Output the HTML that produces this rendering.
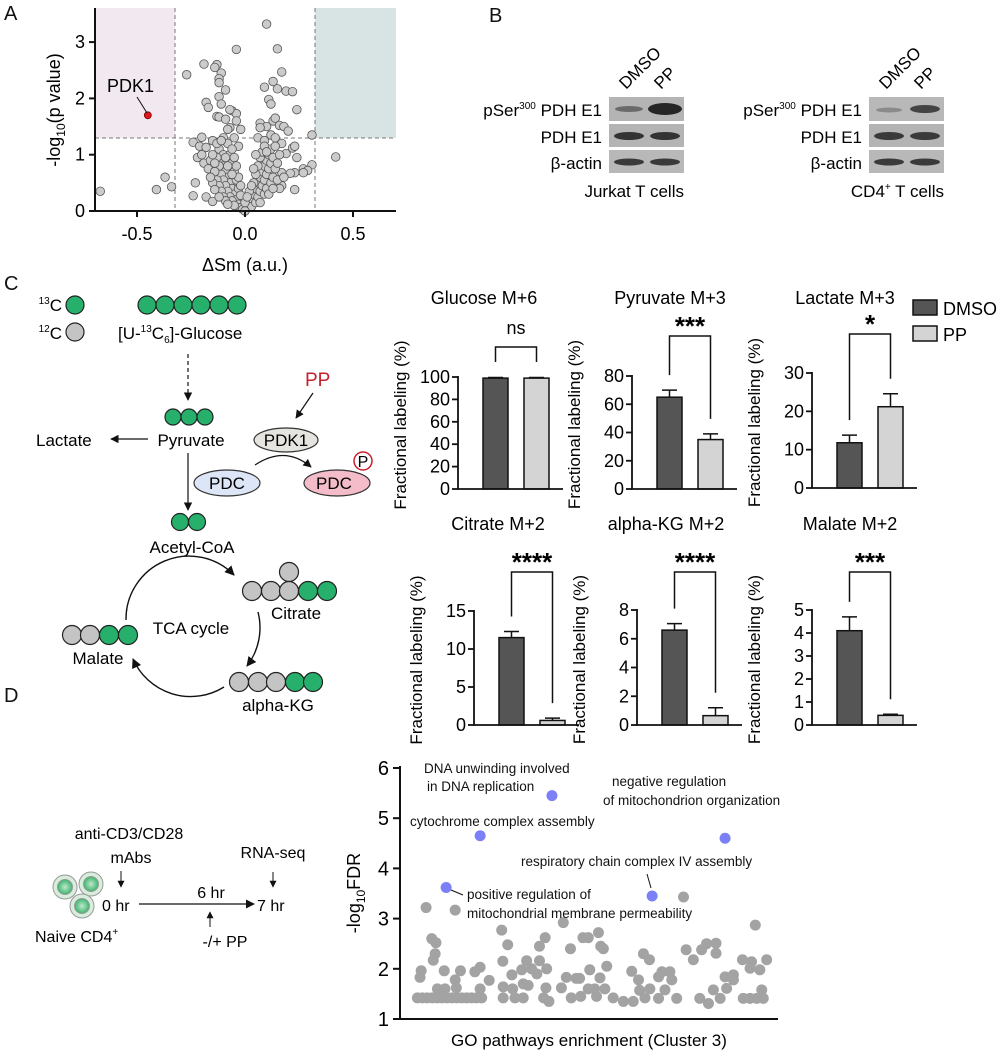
<!DOCTYPE html>
<html><head><meta charset="utf-8"><style>
html,body{margin:0;padding:0;background:#fff}
svg{display:block;font-family:"Liberation Sans",Arial,sans-serif}
</style></head><body>
<svg id="fig" width="1004" height="1050" viewBox="0 0 1004 1050" xmlns="http://www.w3.org/2000/svg">
<defs>
<marker id="ah" viewBox="0 0 10 10" refX="9" refY="5" markerWidth="7" markerHeight="7" orient="auto"><path d="M0,0 L10,5 L0,10 z" fill="#111"/></marker>
<radialGradient id="cellg"><stop offset="0" stop-color="#bfe8cc"/><stop offset="1" stop-color="#3db46d"/></radialGradient>
</defs>
<g font-size="20" fill="#111">
<text x="4" y="20">A</text>
<text x="489" y="22">B</text>
<text x="4" y="290">C</text>
<text x="4" y="702">D</text>
</g>

<g id="volcano">
<rect x="95" y="8" width="80" height="130" fill="#f1e9ef"/>
<rect x="315" y="8" width="81" height="130" fill="#d8e4e4"/>
<g stroke="#777" stroke-dasharray="4,3" stroke-width="1">
<line x1="175" y1="8" x2="175" y2="211"/>
<line x1="315" y1="8" x2="315" y2="211"/>
<line x1="95" y1="138" x2="396" y2="138"/>
</g>
<g id="vpts"></g>
<line x1="95" y1="8" x2="95" y2="211" stroke="#111" stroke-width="2"/>
<line x1="94" y1="211" x2="396" y2="211" stroke="#111" stroke-width="2"/>
<g id="vticks" font-size="18"></g>
<text transform="translate(60,110) rotate(-90)" text-anchor="middle" font-size="18">-log<tspan font-size="12" dy="5">10</tspan><tspan dy="-5">(p value)</tspan></text>
<text x="245" y="271" text-anchor="middle" font-size="18">ΔSm (a.u.)</text>
<line x1="137" y1="97" x2="147" y2="113" stroke="#111" stroke-width="1"/>
<text x="107" y="92" font-size="18">PDK1</text>
</g>

<g font-size="17">
<text transform="translate(626,90) rotate(-45)">DMSO</text>
<text transform="translate(661,90) rotate(-45)">PP</text>
<rect x="609" y="97" width="75" height="24" fill="#b4b4b4"/>
<rect x="609" y="124" width="75" height="23" fill="#b4b4b4"/>
<rect x="609" y="150" width="75" height="23" fill="#b8b8b8"/>
<ellipse cx="629" cy="109" rx="14" ry="3" fill="#6a6a6a"/>
<ellipse cx="665" cy="109" rx="17" ry="6" fill="#262626"/>
<ellipse cx="629" cy="136" rx="15" ry="4" fill="#333"/>
<ellipse cx="665" cy="136" rx="15" ry="4" fill="#333"/>
<ellipse cx="629" cy="162" rx="15" ry="3.5" fill="#3a3a3a"/>
<ellipse cx="665" cy="162" rx="15" ry="3.5" fill="#3a3a3a"/>
<text x="602" y="116" text-anchor="end">pSer<tspan font-size="10" dy="-7">300</tspan><tspan dy="7"> PDH E1</tspan></text>
<text x="602" y="143" text-anchor="end">PDH E1</text>
<text x="602" y="169" text-anchor="end">β-actin</text>
<text x="684" y="197" text-anchor="end">Jurkat T cells</text>
</g>
<g font-size="17">
<text transform="translate(886,90) rotate(-45)">DMSO</text>
<text transform="translate(921,90) rotate(-45)">PP</text>
<rect x="869" y="97" width="75" height="24" fill="#b8b8b8"/>
<rect x="869" y="124" width="75" height="23" fill="#b4b4b4"/>
<rect x="869" y="150" width="75" height="23" fill="#b8b8b8"/>
<ellipse cx="889" cy="110" rx="13" ry="2.5" fill="#8a8a8a"/>
<ellipse cx="925" cy="109" rx="15" ry="4" fill="#444"/>
<ellipse cx="889" cy="136" rx="15" ry="4" fill="#3a3a3a"/>
<ellipse cx="925" cy="136" rx="15" ry="4" fill="#3a3a3a"/>
<ellipse cx="889" cy="162" rx="15" ry="3.5" fill="#3a3a3a"/>
<ellipse cx="925" cy="162" rx="15" ry="3.5" fill="#3a3a3a"/>
<text x="862" y="116" text-anchor="end">pSer<tspan font-size="10" dy="-7">300</tspan><tspan dy="7"> PDH E1</tspan></text>
<text x="862" y="143" text-anchor="end">PDH E1</text>
<text x="862" y="169" text-anchor="end">β-actin</text>
<text x="944" y="197" text-anchor="end">CD4<tspan font-size="10" dy="-7">+</tspan><tspan dy="7"> T cells</tspan></text>
</g>

<g font-size="17" stroke-width="1.2">
<text x="62" y="311" text-anchor="end"><tspan font-size="10" dy="-7">13</tspan><tspan dy="7">C</tspan></text>
<circle cx="75" cy="305" r="9" fill="#27b06b" stroke="#222"/>
<text x="62" y="339" text-anchor="end"><tspan font-size="10" dy="-7">12</tspan><tspan dy="7">C</tspan></text>
<circle cx="75" cy="332" r="9" fill="#c4c4c4" stroke="#222"/>
<g fill="#27b06b" stroke="#222">
<circle cx="147" cy="305" r="9"/><circle cx="165" cy="305" r="9"/><circle cx="183" cy="305" r="9"/><circle cx="201" cy="305" r="9"/><circle cx="219" cy="305" r="9"/><circle cx="237" cy="305" r="9"/>
</g>
<text x="118" y="339">[U-<tspan font-size="10" dy="-7">13</tspan><tspan dy="7">C</tspan><tspan font-size="10" dy="4">6</tspan><tspan dy="-4">]-Glucose</tspan></text>
<line x1="188" y1="354" x2="188" y2="400" stroke="#111" stroke-dasharray="4,3" marker-end="url(#ah)"/>
<g fill="#27b06b" stroke="#222"><circle cx="173" cy="417" r="8"/><circle cx="189" cy="417" r="8"/><circle cx="205" cy="417" r="8"/></g>
<text x="191" y="446" text-anchor="middle">Pyruvate</text>
<text x="36" y="446">Lactate</text>
<line x1="148" y1="439" x2="111" y2="439" stroke="#111" marker-end="url(#ah)"/>
<text x="305" y="386" fill="#c8202c" font-size="19">PP</text>
<line x1="313" y1="393" x2="296" y2="418" stroke="#111" marker-end="url(#ah)"/>
<ellipse cx="286" cy="440" rx="32" ry="12" fill="#e6e4df" stroke="#333"/>
<text x="286" y="446" text-anchor="middle">PDK1</text>
<ellipse cx="227" cy="483" rx="33" ry="13" fill="#dde6f6" stroke="#333"/>
<text x="227" y="489" text-anchor="middle">PDC</text>
<ellipse cx="337" cy="483" rx="33" ry="13" fill="#f3bcc8" stroke="#333"/>
<text x="334" y="489" text-anchor="middle">PDC</text>
<circle cx="363" cy="461" r="9" fill="#fff" stroke="#c8202c" stroke-width="1.5"/>
<text x="363" y="467" text-anchor="middle" font-size="16">P</text>
<path d="M255 465 Q285 445 311 467" fill="none" stroke="#111" marker-end="url(#ah)"/>
<line x1="188" y1="453" x2="188" y2="510" stroke="#111" marker-end="url(#ah)"/>
<g fill="#27b06b" stroke="#222"><circle cx="180" cy="522" r="8.5"/><circle cx="197" cy="522" r="8.5"/></g>
<text x="192" y="553" text-anchor="middle">Acetyl-CoA</text>
<circle cx="289" cy="572" r="9.5" fill="#c4c4c4" stroke="#222"/>
<g stroke="#222"><circle cx="252" cy="591" r="9.5" fill="#c4c4c4"/><circle cx="271" cy="591" r="9.5" fill="#c4c4c4"/><circle cx="289" cy="591" r="9.5" fill="#c4c4c4"/><circle cx="308" cy="591" r="9.5" fill="#27b06b"/><circle cx="327" cy="591" r="9.5" fill="#27b06b"/></g>
<text x="296" y="619" text-anchor="middle">Citrate</text>
<g stroke="#222"><circle cx="239" cy="682" r="9.5" fill="#c4c4c4"/><circle cx="258" cy="682" r="9.5" fill="#c4c4c4"/><circle cx="276" cy="682" r="9.5" fill="#c4c4c4"/><circle cx="295" cy="682" r="9.5" fill="#27b06b"/><circle cx="313" cy="682" r="9.5" fill="#27b06b"/></g>
<text x="278" y="711" text-anchor="middle">alpha-KG</text>
<g stroke="#222"><circle cx="72" cy="635" r="9.5" fill="#c4c4c4"/><circle cx="90" cy="635" r="9.5" fill="#c4c4c4"/><circle cx="109" cy="635" r="9.5" fill="#27b06b"/><circle cx="128" cy="635" r="9.5" fill="#27b06b"/></g>
<text x="98" y="664" text-anchor="middle">Malate</text>
<text x="191" y="634" text-anchor="middle">TCA cycle</text>
<g fill="none" stroke="#111" stroke-width="1.4">
<path d="M126 620 A63 63 0 0 1 234 575" marker-end="url(#ah)"/>
<path d="M258 612 A63 63 0 0 1 247 666" marker-end="url(#ah)"/>
<path d="M224 687 A63 63 0 0 1 133 659" marker-end="url(#ah)"/>
</g>
</g>

<g id="bars"></g>
<g font-size="18">
<rect x="913" y="300" width="24" height="15" fill="#555" stroke="#111" stroke-width="1.5"/>
<text x="943" y="315">DMSO</text>
<rect x="913" y="326" width="24" height="15" fill="#d4d4d4" stroke="#111" stroke-width="1.5"/>
<text x="943" y="341">PP</text>
</g>

<g font-size="16">
<g stroke="#999" stroke-width="1">
<circle cx="65" cy="887" r="12" fill="#d8eedd"/><circle cx="65" cy="887" r="7.5" fill="url(#cellg)"/>
<circle cx="91" cy="884" r="12" fill="#d8eedd"/><circle cx="91" cy="884" r="7.5" fill="url(#cellg)"/>
<circle cx="82" cy="906" r="12" fill="#d8eedd"/><circle cx="82" cy="906" r="7.5" fill="url(#cellg)"/>
</g>
<text x="129" y="839" text-anchor="middle">anti-CD3/CD28</text>
<text x="131" y="863" text-anchor="middle">mAbs</text>
<line x1="121" y1="871" x2="121" y2="887" stroke="#111" marker-end="url(#ah)"/>
<text x="102" y="911">0 hr</text>
<line x1="139" y1="904" x2="254" y2="904" stroke="#111" stroke-width="1.3" marker-end="url(#ah)"/>
<text x="211" y="898" text-anchor="middle">6 hr</text>
<text x="257" y="911">7 hr</text>
<text x="273" y="858" text-anchor="middle">RNA-seq</text>
<line x1="273" y1="872" x2="273" y2="887" stroke="#111" marker-end="url(#ah)"/>
<line x1="210" y1="927" x2="210" y2="912" stroke="#111" marker-end="url(#ah)"/>
<text x="225" y="947" text-anchor="middle">-/+ PP</text>
<text x="35" y="942">Naive CD4<tspan font-size="10" dy="-7">+</tspan></text>
</g>

<g id="go">
<g id="gopts"></g>
<line x1="400" y1="766" x2="400" y2="1019" stroke="#111" stroke-width="2"/>
<line x1="399" y1="1019" x2="778" y2="1019" stroke="#111" stroke-width="2"/>
<g id="goticks" font-size="20"></g>
<text transform="translate(360,893) rotate(-90)" text-anchor="middle" font-size="18">-log<tspan font-size="12" dy="5">10</tspan><tspan dy="-5">FDR</tspan></text>
<text x="589" y="1046" text-anchor="middle" font-size="17">GO pathways enrichment (Cluster 3)</text>
<g font-size="13.5" fill="#111">
<text x="424" y="773">DNA unwinding involved</text>
<text x="427" y="791">in DNA replication</text>
<text x="410" y="826">cytochrome complex assembly</text>
<text x="612" y="786">negative regulation</text>
<text x="603" y="805">of mitochondrion organization</text>
<text x="521" y="866">respiratory chain complex IV assembly</text>
<text x="467" y="899">positive regulation of</text>
<text x="467" y="918">mitochondrial membrane permeability</text>
</g>
<line x1="451" y1="890" x2="463" y2="895" stroke="#111" stroke-width="1"/>
<line x1="647" y1="874" x2="651" y2="888" stroke="#111" stroke-width="1"/>
</g>
</svg>

<script>
const NS='http://www.w3.org/2000/svg';
function mk(tag, attrs, parent){const e=document.createElementNS(NS,tag);for(const k in attrs)e.setAttribute(k,attrs[k]);parent.appendChild(e);return e;}

// ---------- Panel A data ----------
const volX=[-0.67,-0.41,-0.37,-0.34,0.42,0.31,0.31,-0.27,0.10,-0.04,0.15,-0.19,-0.13,-0.14,-0.11,-0.12,-0.12,-0.09,0.17,0.13,0.09,0.15,0.19,0.22,0.11,0.12,0.24,-0.18,-0.17,-0.12,-0.11,-0.06,-0.04,-0.07,-0.13,-0.12,-0.09,-0.04,0.07,0.13,0.14,0.16,0.18,0.20,0.10,0.07,-0.07,-0.08,-0.02,-0.20,-0.24,-0.21,-0.18,-0.15,-0.10,-0.05,-0.03,0.06,0.09,0.12,0.14,0.17,0.22,0.23,0.19,0.24,0.27,0.29,0.27,0.23,0.21,0.17,0.23,0.17,-0.23,-0.24,-0.18,-0.15,-0.22,-0.20,-0.19,-0.16,-0.17,
-0.12,-0.10,-0.11,-0.10,-0.09,-0.08,-0.07,-0.06,-0.05,-0.04,-0.03,-0.02,-0.01,-0.13,-0.12,-0.11,-0.10,-0.09,-0.08,-0.07,-0.06,-0.05,-0.14,-0.13,-0.12,-0.11,-0.10,-0.09,-0.08,-0.15,-0.14,-0.12,-0.07,-0.06,-0.05,-0.04,-0.03,-0.02,-0.08,-0.06,-0.05,-0.04,-0.03,-0.09,-0.08,-0.13,-0.15,-0.16,-0.14,-0.11,-0.06,-0.02,
0.01,0.02,0.03,0.04,0.05,0.06,0.07,0.08,0.09,0.10,0.11,0.12,0.03,0.05,0.06,0.07,0.08,0.09,0.10,0.11,0.12,0.13,0.07,0.09,0.10,0.12,0.13,0.14,0.15,0.16,0.04,0.05,0.06,0.07,0.08,0.09,0.02,0.03,0.15,0.16,0.18,0.14,0.10,0.05,0.04,0.11,0.13,0.00,0.00,0.01];
const volY=[0.35,0.38,0.60,0.43,0.96,1.35,0.82,2.42,3.32,2.87,2.88,2.61,2.60,2.55,2.45,2.35,2.28,2.15,2.47,2.30,2.20,2.17,2.13,2.12,1.98,1.90,1.80,1.93,1.84,2.03,1.90,1.78,1.73,1.80,1.68,1.67,1.63,1.60,1.56,1.60,1.65,1.52,1.50,1.42,1.50,1.48,1.48,1.45,1.45,1.31,1.22,1.15,1.13,1.25,1.30,1.30,1.15,1.30,1.25,1.35,1.30,1.20,1.12,1.15,1.02,0.95,0.75,0.72,0.68,0.68,0.67,0.68,0.38,0.45,0.50,0.27,0.25,0.17,0.95,1.00,0.85,0.90,0.75,
1.10,1.00,0.90,0.80,0.70,0.60,0.50,0.40,0.30,0.20,0.12,0.06,0.03,0.95,0.80,0.65,0.55,0.45,0.35,0.25,0.18,0.10,0.70,0.55,0.45,0.35,0.25,0.18,0.12,0.50,0.38,0.25,1.00,0.85,0.70,0.55,0.40,0.28,1.20,1.10,0.95,0.80,0.60,0.95,0.80,1.20,1.00,0.60,0.85,1.25,0.65,0.45,
0.05,0.12,0.20,0.30,0.40,0.50,0.60,0.70,0.80,0.90,1.00,1.10,0.08,0.15,0.25,0.35,0.45,0.55,0.65,0.75,0.85,0.95,0.15,0.30,0.40,0.50,0.60,0.75,0.85,1.00,0.50,0.65,0.80,0.95,1.05,1.15,0.35,0.45,0.55,0.40,0.60,1.15,1.05,1.00,0.75,0.30,0.40,0.15,0.00,0.25];
const hitX=[-0.45], hitY=[1.7];
const volXTicks=[-0.5,0.0,0.5], volXTickLabels=['-0.5','0.0','0.5'];
const volYTicks=[0,1,2,3];

const vx=v=>245+v*216, vy=v=>211-v*56.3;
const vp=document.getElementById('vpts');
for(let i=0;i<volX.length;i++){
  const c=mk('circle',{cx:vx(volX[i]),cy:vy(volY[i]),r:4.3,fill:'#cbcbcb',stroke:'#555','stroke-width':0.8},vp);
  
  
}
for(let i=0;i<hitX.length;i++){
  const c=mk('circle',{cx:vx(hitX[i]),cy:vy(hitY[i]),r:3.5,fill:'#e0161b',stroke:'#700','stroke-width':0.8},vp);
  
  
}
const vt=document.getElementById('vticks');
volXTicks.forEach((t,i)=>{
  mk('line',{x1:vx(t),x2:vx(t),y1:211,y2:217,stroke:'#111','stroke-width':2},vt);
  const l=mk('text',{x:vx(t),y:240,'text-anchor':'middle'},vt);l.textContent=volXTickLabels[i];
  
  
});
volYTicks.forEach(t=>{
  mk('line',{x1:89,x2:95,y1:vy(t),y2:vy(t),stroke:'#111','stroke-width':2},vt);
  const l=mk('text',{x:85,y:vy(t)+6,'text-anchor':'end'},vt);l.textContent=t;
  
  
});

// ---------- Panel C bar data ----------
const groups=['DMSO','PP'];
const glucoseVals=[99,99], glucoseErr=[0.6,0.6];
const pyruvateVals=[65,35], pyruvateErr=[5,4];
const lactateVals=[11.8,21.2], lactateErr=[2,3.4];
const citrateVals=[11.5,0.6], citrateErr=[0.8,0.3];
const akgVals=[6.6,0.65], akgErr=[0.45,0.55];
const malateVals=[4.1,0.42], malateErr=[0.6,0.05];
const glucoseTicks=[0,20,40,60,80,100], pyruvateTicks=[0,20,40,60,80], lactateTicks=[0,10,20,30];
const citrateTicks=[0,5,10,15], akgTicks=[0,2,4,6,8], malateTicks=[0,1,2,3,4,5];
const sigLabels=['ns','***','*','****','****','***'];

const charts=[
 {id:'glucose',title:'Glucose M+6',tx:484,ty:304,ax:458,base:489,top:377,ticks:glucoseTicks,vals:glucoseVals,err:glucoseErr,br:347,legs:[362,362]},
 {id:'pyruvate',title:'Pyruvate M+3',tx:670,ty:304,ax:632,base:489,top:376,ticks:pyruvateTicks,vals:pyruvateVals,err:pyruvateErr,br:336},
 {id:'lactate',title:'Lactate M+3',tx:845,ty:304,ax:812,base:488,top:373,ticks:lactateTicks,vals:lactateVals,err:lactateErr,br:334},
 {id:'citrate',title:'Citrate M+2',tx:498,ty:530,ax:474,base:725,top:611,ticks:citrateTicks,vals:citrateVals,err:citrateErr,br:572},
 {id:'alpha-kg',title:'alpha-KG M+2',tx:666,ty:530,ax:637,base:725,top:610,ticks:akgTicks,vals:akgVals,err:akgErr,br:572},
 {id:'malate',title:'Malate M+2',tx:850,ty:530,ax:812,base:725,top:610,ticks:malateTicks,vals:malateVals,err:malateErr,br:572}
];
const bg=document.getElementById('bars');
charts.forEach((c,ci)=>{
  const g=mk('g',{'font-size':17},bg);
  
  
  const max=c.ticks[c.ticks.length-1];
  const ys=v=>c.base-(v/max)*(c.base-c.top);
  const t=mk('text',{x:c.tx,y:c.ty,'text-anchor':'middle','font-size':18},g);
  t.textContent=c.title;
  
  
  const yt=mk('text',{transform:'translate('+(c.ax-52)+','+((c.base+c.top)/2-8)+') rotate(-90)','text-anchor':'middle','font-size':17},g);
  yt.textContent='Fractional labeling (%)';
  
  
  const tops=[];
  c.vals.forEach((v,i)=>{
    const x=c.ax+25+i*41;
    const r=mk('rect',{x:x,y:ys(v),width:25,height:c.base-ys(v),fill:i?'#d4d4d4':'#555',stroke:'#111','stroke-width':1.5},g);
    
    
    const et=ys(v+c.err[i]);
    tops.push(et);
    const e=mk('path',{d:'M'+(x+12.5)+' '+ys(v)+' V'+et+' M'+(x+5)+' '+et+' H'+(x+20),stroke:'#111','stroke-width':1.5,fill:'none'},g);
    
    
  });
  mk('line',{x1:c.ax,x2:c.ax,y1:c.top-1,y2:c.base,stroke:'#111','stroke-width':1.8},g);
  mk('line',{x1:c.ax-1,x2:c.ax+105,y1:c.base,y2:c.base,stroke:'#111','stroke-width':1.8},g);
  c.ticks.forEach(tv=>{
    mk('line',{x1:c.ax-6,x2:c.ax,y1:ys(tv),y2:ys(tv),stroke:'#111','stroke-width':1.8},g);
    const l=mk('text',{x:c.ax-8,y:ys(tv)+6,'text-anchor':'end','font-size':18},g);
    l.textContent=tv;
    
    
  });
  const l0=c.legs?c.legs[0]:tops[0]-15, l1=c.legs?c.legs[1]:tops[1]-15;
  const bx0=c.ax+37.5, bx1=c.ax+78.5;
  const b=mk('path',{d:'M'+bx0+' '+l0+' V'+c.br+' H'+bx1+' V'+l1,stroke:'#111','stroke-width':1.5,fill:'none'},g);
  
  
  const s=sigLabels[ci];
  const st=mk('text',{x:(bx0+bx1)/2,y:s==='ns'?c.br-13:c.br-1,'text-anchor':'middle','font-size':s==='ns'?18:26,'font-weight':s==='ns'?'normal':'bold'},g);
  st.textContent=s;
  
  
});

// ---------- Panel D data ----------
const goIdx=[4.6,5.9,7.2,8.5,9.8,11.1,12.4,13.7,15,16.3,17.6,18.9,20.2,21.6,5.3,5.6,6.9,8.4,9.5,9.3,8.8,9.9,11.9,11.7,14.6,14.9,16,19.8,21.2,21.2,23.6,14.6,
26.9,27.2,28.5,27.3,27.3,29.6,29.8,32.2,33.5,32.6,33.9,30.4,32.6,34.8,36.2,36.9,36.9,38.4,38.8,38.6,38,39.4,43.2,42.7,44,45.1,45.3,46.6,47.5,47.8,48.4,49.8,50.2,49.8,51.5,52,52.5,53.1,53.8,54.7,52.9,54.2,56.4,59.1,61.3,63.1,64.4,66,63.4,64.8,66.1,61.7,
68.4,69.3,71.4,68.4,70.1,71.9,73.2,75.7,77.6,79.8,81.1,83.6,83.6,79.3,81.6,82.9,84.7,86.4,86,88.2,88.2,90.6,93,92.6,95.2,97,90.8,92.6,94.4,96.1,95.7,94,75];
const goVal=[1.42,1.42,1.42,1.42,1.42,1.42,1.42,1.42,1.42,1.42,1.42,1.42,1.42,1.42,1.83,1.96,3.22,2.6,2.52,2.3,2.17,1.6,1.6,1.96,1.78,1.62,1.96,1.94,2.03,1.6,1.77,3.17,
2.77,2.15,2.48,1.64,1.42,1.88,1.6,1.98,2.16,1.7,1.67,1.42,1.42,2.0,1.9,2.45,2.16,2.62,2.0,1.62,1.42,1.35,2.92,1.62,1.83,2.4,1.42,1.81,1.81,1.45,2.62,2.62,1.98,1.6,1.6,1.45,2.72,2.45,2.4,2.05,1.82,1.6,1.42,1.35,1.95,1.78,2.3,2.18,1.57,1.42,1.6,1.35,
1.84,1.94,1.94,1.41,1.58,1.78,1.41,2.38,2.18,2.38,2.5,2.51,2.31,1.41,1.31,1.58,1.41,1.61,1.84,1.88,1.78,2.18,2.14,2.01,1.98,2.18,1.41,1.41,1.41,1.41,1.58,2.87,3.43];
const hiIdx=[12.2,21.2,40.2,66.7,86], hiVal=[3.62,4.65,5.45,3.45,4.6];
const hiNames=['positive-regulation','cytochrome-assembly','dna-unwinding','respiratory-chain','negative-regulation'];
const goTicks=[1,2,3,4,5,6];
const gx=i=>400+i*3.78, gy=v=>1019-(v-1)*50.2;
const gp=document.getElementById('gopts');
for(let i=0;i<goIdx.length;i++){
  const c=mk('circle',{cx:gx(goIdx[i]),cy:gy(goVal[i]),r:5.5,fill:'#a3a3a3'},gp);
  
  
}
for(let i=0;i<hiIdx.length;i++){
  const c=mk('circle',{cx:gx(hiIdx[i]),cy:gy(hiVal[i]),r:5.5,fill:'#7b80f6'},gp);
  
  
}
const gt=document.getElementById('goticks');
goTicks.forEach(t=>{
  mk('line',{x1:393,x2:400,y1:gy(t),y2:gy(t),stroke:'#111','stroke-width':2},gt);
  const l=mk('text',{x:389,y:gy(t)+7,'text-anchor':'end'},gt);l.textContent=t;
  
  
});
</script>
</body></html>
